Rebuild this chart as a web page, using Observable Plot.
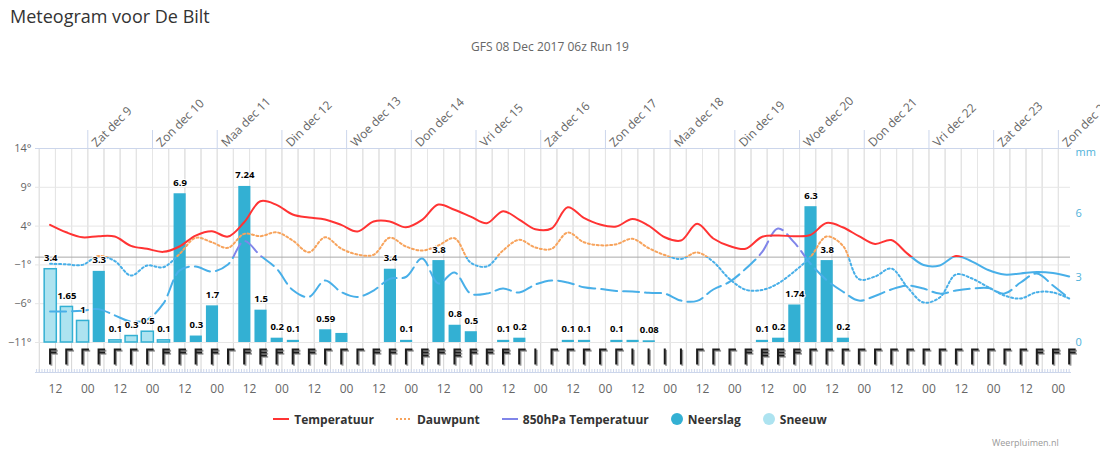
<!DOCTYPE html>
<html>
<head>
<meta charset="utf-8">
<script src="https://cdn.jsdelivr.net/npm/d3@7"></script>
<script src="https://cdn.jsdelivr.net/npm/@observablehq/plot@0.6"></script>
<style>
  body { margin: 0; background: #fff; font-family: "Open Sans", "Liberation Sans", sans-serif; }
  #wrap { position: relative; width: 1100px; height: 450px; overflow: hidden; background: #fff; }
  #title { position: absolute; left: 10px; top: 4px; font-size: 18px; color: #333; }
  #subtitle { position: absolute; left: 0; width: 1100px; top: 38px; text-align: center; font-size: 12px; color: #666; }
  #chart { position: absolute; left: 0; top: 60px; }
  #legend { position: absolute; left: 0; width: 1100px; top: 410px; height: 18px; display: flex; justify-content: center; align-items: center; gap: 22px; font-size: 12px; font-weight: bold; color: #333; }
  #legend .item { display: flex; align-items: center; gap: 5px; }
  #credits { position: absolute; left: 992px; top: 436px; font-size: 9px; color: #999; }
</style>
</head>
<body>
<div id="wrap">
  <div id="title">Meteogram voor De Bilt</div>
  <div id="subtitle">GFS 08 Dec 2017 06z Run 19</div>
  <div id="chart"></div>
  <div id="legend"></div>
  <div id="credits">Weerpluimen.nl</div>
</div>
<script>
// ---- data (hours counted from 8 Dec 2017 00:00, one value every 6 hours) ----
const startHour = 10;
const stepHours = 6;

const temperature = [4.16, 3.2, 2.56, 2.7, 2.65, 1.45, 1.07, 0.68, 1.37, 2.78,
  3.34, 2.65, 4.5, 7.2, 6.74, 5.49, 5.1, 4.85, 4.16, 3.3,
  4.59, 4.6, 3.85, 4.8, 6.78, 6.1, 5.23, 4.37, 5.92, 4.85,
  3.6, 3.69, 6.43, 5.06, 4.2, 3.94, 4.93, 4.07, 2.56, 2.14,
  4.29, 2.4, 1.43, 1.07, 2.6, 2.78, 2.7, 2.85, 4.4, 3.85,
  2.7, 1.7, 2.2, 0.45, -1.02, -1.08, 0.14, -0.57, -1.66, -2.24,
  -2.1, -1.92, -2.05, -2.5];

const dewPoint = [-0.86, -0.92, -1.0, 0.15, -0.5, -2.37, -1.08, -1.3, 0.4, 2.49,
  1.92, 1.2, 3.0, 2.7, 3.2, 2.14, 0.63, 2.56, 1.1, 0.34,
  0.3, 2.5, 1.37, 0.85, 1.5, 2.44, -0.7, -1.2, 0.85, 2.23,
  1.24, 1.07, 3.17, 1.92, 1.53, 1.66, 2.36, 1.17, 0.27, -0.24,
  0.6, -0.6, -2.8, -4.2, -4.24, -3.4, -1.86, 0, 2.65, 1.5,
  -2.82, -2.5, -1.46, -3.87, -5.85, -5.2, -2.24, -2.76, -3.87, -4.95,
  -5.33, -4.52, -4.55, -5.33];

const temp850 = [-7.0, -7.0, -6.9, -6.7, -7.5, -8.3, -8.04, -6.0, -1.73, -1.2,
  -1.86, -0.95, 2.07, 0.2, -1.47, -4.24, -5.13, -3.0, -4.5, -5.13,
  -4.3, -2.8, -2.56, -0.18, -3.4, -1.98, -4.7, -4.7, -4.05, -4.56,
  -3.53, -3.0, -3.27, -3.88, -4.1, -4.37, -4.43, -4.6, -4.7, -5.6,
  -5.64, -4.17, -3.2, -1.5, 0.6, 3.7, 1.9, -0.82, -2.94, -4.43,
  -5.6, -5.0, -4.17, -3.66, -4.05, -4.7, -4.3, -4.05, -3.98, -4.7,
  -3.27, -2.1, -3.66, -5.33];

const rain = [0, 0, 0, 3.3, 0, 0, 0, 0, 6.9, 0.3,
  1.7, 0, 7.24, 1.5, 0.2, 0.1, 0, 0.59, 0.42, 0,
  0, 3.4, 0.1, 0, 3.8, 0.8, 0.5, 0, 0.1, 0.2,
  0, 0, 0.1, 0.1, 0, 0.1, 0.1, 0.08, 0, 0,
  0, 0, 0, 0, 0.1, 0.2, 1.74, 6.3, 3.8, 0.2,
  0, 0, 0, 0, 0, 0, 0, 0, 0, 0,
  0, 0, 0, 0];

const snow = [3.4, 1.65, 1, 0, 0.1, 0.3, 0.5, 0.1, 0, 0,
  0, 0, 0, 0, 0, 0, 0, 0, 0, 0,
  0, 0, 0, 0, 0, 0, 0, 0, 0, 0,
  0, 0, 0, 0, 0, 0, 0, 0, 0, 0,
  0, 0, 0, 0, 0, 0, 0, 0, 0, 0,
  0, 0, 0, 0, 0, 0, 0, 0, 0, 0,
  0, 0, 0, 0];

// number of barb strokes on each wind symbol
const windBarbs = [2, 1, 1, 2, 1, 1, 1, 2, 2, 2,
  2, 1, 2, 3, 2, 2, 2, 1, 1, 1,
  2, 2, 1, 3, 2, 3, 2, 2, 2, 1,
  0, 1, 1, 1, 1, 1, 0, 0, 0, 0,
  1, 1, 1, 2, 3, 3, 2, 1, 1, 1,
  1, 1, 1, 1, 1, 1, 1, 1, 1, 1,
  1, 2, 2, 2];

const hiddenRainLabels = [18, 36];

const dayLabels = ["Zat dec 9", "Zon dec 10", "Maa dec 11", "Din dec 12", "Woe dec 13",
  "Don dec 14", "Vri dec 15", "Zat dec 16", "Zon dec 17", "Maa dec 18", "Din dec 19",
  "Woe dec 20", "Don dec 21", "Vri dec 22", "Zat dec 23", "Zon dec 24"];
const dayHours = [24, 48, 72, 96, 120, 144, 168, 192, 216, 240, 264, 288, 312, 336, 360, 384];
const tempTicks = [-11, -6, -1, 4, 9, 14];
const mmTicks = [0, 3, 6];

// ---- build ----
const W = 1100, H = 340;
const mmMax = 9;
const tMin = -11, tMax = 14;
const mmToT = v => tMin + v * (tMax - tMin) / mmMax;
const tToMm = t => Math.round((t - tMin) * mmMax / (tMax - tMin));

const rows = temperature.map((t, k) => ({
  h: startHour + stepHours * k, t, dew: dewPoint[k], t850: temp850[k],
  rain: rain[k], snow: snow[k], barb: windBarbs[k], k
}));
const rainRows = rows.filter(d => d.rain > 0);
const snowRows = rows.filter(d => d.snow > 0);
const labelRows = rows.filter(d => (d.rain > 0 || d.snow > 0) && !hiddenRainLabels.includes(d.k))
  .map(d => ({h: d.h, v: d.rain > 0 ? d.rain : d.snow}));

const gridHours = d3.range(6, 389, 6);
const halfDayHours = d3.range(12, 385, 12);
const minorHours = d3.range(5, 389, 1);

const barbSymbol = n => ({
  draw(ctx) {
    ctx.moveTo(0, -8); ctx.lineTo(0, 8);
    for (let i = 0; i < n; i++) { ctx.moveTo(0, -7 + i * 3); ctx.lineTo(6.5, -7 + i * 3); }
  }
});

const marginTop = 88, marginBottom = 28;
const frameH = H - marginTop - marginBottom;
const blue = "#48afe8";
const barMarks = [];
for (let n = 0; n <= 3; n++) {
  const sub = rows.filter(d => d.barb === n);
  barMarks.push(Plot.dot(sub, {x: "h", frameAnchor: "bottom", dx: 1.3, dy: -16 + 1.3, symbol: barbSymbol(n), fill: "none", stroke: "#9a9a9a", strokeWidth: 2}));
  barMarks.push(Plot.dot(sub, {x: "h", frameAnchor: "bottom", dy: -16, symbol: barbSymbol(n), fill: "none", stroke: "#1c1c1c", strokeWidth: 2}));
}

const chart = Plot.plot({
  width: W, height: H,
  marginTop, marginBottom, marginLeft: 35, marginRight: 30,
  style: {fontFamily: "'Open Sans', 'Liberation Sans', sans-serif", fontSize: "11px", background: "white", overflow: "visible"},
  x: {type: "linear", domain: [4.6, 388.5], axis: null},
  y: {domain: [tMin, tMax], range: [282, 88], axis: null},
  marks: [
    Plot.ruleX(gridHours, {x: d => d, stroke: "#d4d4d4"}),
    Plot.ruleX(gridHours, {x: d => d, y1: tMin, y2: tMax, stroke: "#e6e6e6"}),
    Plot.ruleY(tempTicks, {y: d => d, stroke: "#e6e6e6"}),
    Plot.ruleX(minorHours, {x: d => d, insetTop: frameH - 3, stroke: "#ccd6eb"}),
    Plot.frame({anchor: "top", stroke: "#ccd6eb"}),
    Plot.frame({anchor: "bottom", stroke: "#ccd6eb"}),
    Plot.axisX({anchor: "top", ticks: dayHours, tickSize: 19, tickFormat: () => "", stroke: "#ccd6eb", label: null}),
    Plot.text(dayHours, {x: d => d, text: (d, i) => dayLabels[i], frameAnchor: "top", rotate: -45, textAnchor: "start", dx: 3, dy: -7, fontSize: 12, fill: "#666"}),
    Plot.axisX({anchor: "bottom", ticks: halfDayHours, tickSize: 0, tickPadding: 12, tickFormat: h => (h % 24 === 0 ? "00" : "12"), fontSize: 12, fill: "#666", label: null}),
    Plot.axisY({anchor: "left", ticks: tempTicks, tickSize: 0, tickPadding: 4, tickFormat: t => (t < 0 ? "\u2212" + (-t) : String(t)) + "\u00b0", fill: "#666", label: null}),
    Plot.axisY({anchor: "right", ticks: mmTicks.map(mmToT), tickSize: 0, tickPadding: 5, tickFormat: t => String(tToMm(t)), fill: "#4fb2da", label: null}),
    Plot.text(["mm"], {text: d => d, frameAnchor: "top-right", textAnchor: "start", dx: 5, fill: "#4fb2da", fontSize: 11}),
    Plot.ruleY([0], {y: d => d, stroke: "#aaaaaa"}),
    Plot.rect(rainRows, {x1: d => d.h - 2, x2: d => d.h + 2.5, y1: mmToT(0), y2: d => mmToT(d.rain), fill: "#33b0d3"}),
    Plot.rect(snowRows, {x1: d => d.h - 2, x2: d => d.h + 2.5, y1: mmToT(0), y2: d => mmToT(d.snow), fill: "#ade3f0", stroke: "#33b0d3", strokeWidth: 1.5}),
    Plot.line(rows, {x: "h", y: "t850", curve: "catmull-rom", stroke: "url(#g850)", strokeWidth: 2, strokeDasharray: "16,6"}),
    Plot.line(rows, {x: "h", y: "dew", curve: "catmull-rom", stroke: "url(#gDew)", strokeWidth: 2, strokeDasharray: "2,2.5"}),
    Plot.line(rows, {x: "h", y: "t", curve: "catmull-rom", stroke: "url(#gTemp)", strokeWidth: 2}),
    ...barMarks,
    Plot.text(labelRows, {x: d => d.h + 0.25, y: d => mmToT(d.v), dy: -11, text: d => String(d.v), fontWeight: "bold", fontSize: 9.5, fill: "#000", stroke: "white", strokeWidth: 2, paintOrder: "stroke"})
  ]
});

// colour zones: above / below 0 degrees
const y0 = chart.scale("y").apply(0);
const ns = "http://www.w3.org/2000/svg";
const defs = document.createElementNS(ns, "defs");
[["gTemp", "#ff3333"], ["gDew", "#f7a35c"], ["g850", "#8085e9"]].forEach(([id, c]) => {
  const g = document.createElementNS(ns, "linearGradient");
  g.setAttribute("id", id);
  g.setAttribute("gradientUnits", "userSpaceOnUse");
  g.setAttribute("x1", 0); g.setAttribute("x2", 0);
  g.setAttribute("y1", 0); g.setAttribute("y2", H);
  [[0, c], [y0 / H, c], [y0 / H, blue], [1, blue]].forEach(([o, col]) => {
    const s = document.createElementNS(ns, "stop");
    s.setAttribute("offset", o);
    s.setAttribute("stop-color", col);
    g.appendChild(s);
  });
  defs.appendChild(g);
});
chart.insertBefore(defs, chart.firstChild);
document.getElementById("chart").appendChild(chart);

// legend
const legendItems = [
  {label: "Temperatuur", type: "line", color: "#ff3333", dash: null},
  {label: "Dauwpunt", type: "line", color: "#f7a35c", dash: "2,2"},
  {label: "850hPa Temperatuur", type: "line", color: "#8085e9", dash: null},
  {label: "Neerslag", type: "dot", color: "#33b0d3"},
  {label: "Sneeuw", type: "dot", color: "#ade3f0"}
];
const legend = document.getElementById("legend");
legendItems.forEach(it => {
  const item = document.createElement("div");
  item.className = "item";
  const sym = it.type === "line"
    ? `<svg width="16" height="12"><line x1="0" x2="16" y1="6" y2="6" stroke="${it.color}" stroke-width="2" ${it.dash ? `stroke-dasharray="${it.dash}"` : ""}/></svg>`
    : `<svg width="12" height="12"><circle cx="6" cy="6" r="6" fill="${it.color}"/></svg>`;
  item.innerHTML = sym + `<span>${it.label}</span>`;
  legend.appendChild(item);
});
</script>
</body>
</html>
